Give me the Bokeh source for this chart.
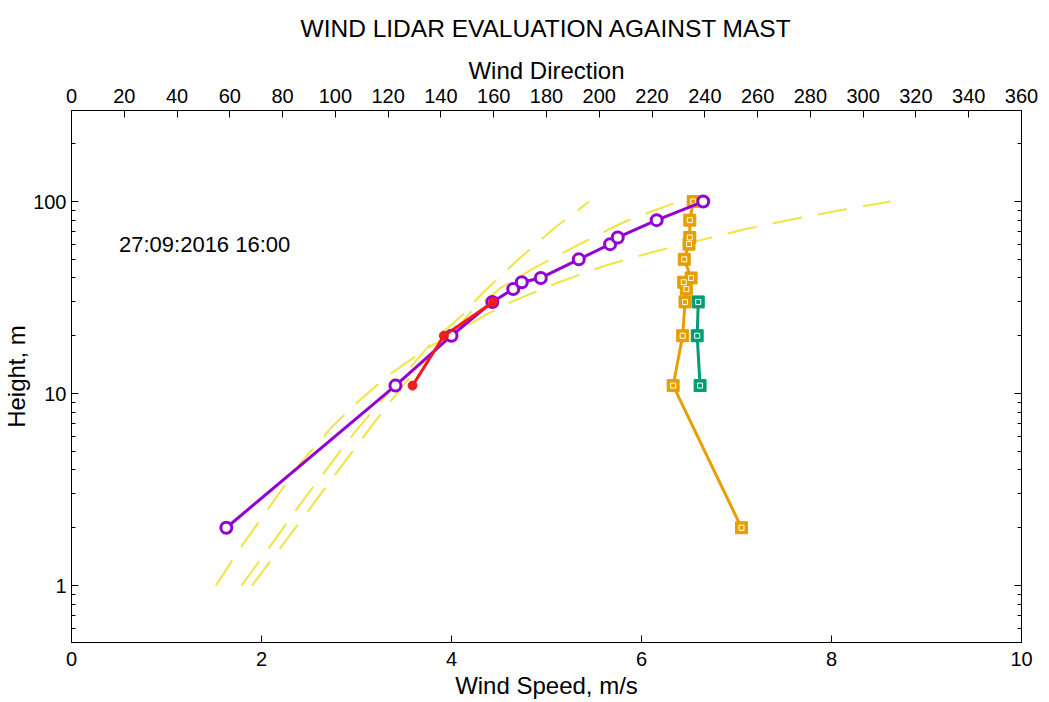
from bokeh.plotting import figure
from bokeh.models import Range1d, LinearAxis, LogAxis, FixedTicker, CustomJSTickFormatter, Label
from bokeh.embed import file_html
from bokeh.resources import INLINE

# ---------------- data ----------------
lidar_height = [2, 11, 20, 30, 35, 38, 40, 50, 60, 65, 80, 100]
lidar_speed = [1.63, 3.41, 4.00, 4.43, 4.65, 4.74, 4.94, 5.34, 5.67, 5.75, 6.16, 6.65]
lidar_dir = [253.9, 228.0, 231.6, 232.5, 233.0, 232.0, 234.8, 232.2, 234.0, 234.3, 234.3, 235.6]

mast_height = [11, 20, 30]
mast_speed = [3.59, 3.92, 4.44]
mast_dir = [238.2, 237.1, 237.5]

profile_a_speed = [1.52, 1.80, 2.10, 2.41, 2.73, 2.96, 3.34, 3.76, 4.38, 4.66, 5.13, 5.62, 6.11, 6.60, 7.11, 7.62, 8.11, 8.62]
profile_a_height = [1.0, 1.63, 2.63, 4.34, 6.6, 8.56, 12.5, 17.4, 26.0, 30.5, 38.0, 46.4, 54.4, 62.6, 72.1, 81.3, 90.5, 100]

profile_b_speed = [1.79, 2.09, 2.39, 2.70, 3.01, 3.22, 3.54, 3.81, 4.11, 4.32, 4.69, 5.08, 5.45]
profile_b_height = [1.0, 1.60, 2.58, 4.13, 6.55, 8.66, 13.2, 18.9, 25.5, 33.1, 49.3, 72.6, 100]

profile_c_speed = [1.90, 2.21, 2.52, 2.82, 3.13, 3.33, 3.62, 3.91, 4.20, 4.52, 4.90, 5.36, 5.81, 6.11, 6.39]
profile_c_height = [1.0, 1.60, 2.56, 4.05, 6.49, 8.74, 13.2, 18.4, 26.4, 35.6, 45.9, 60.4, 78.0, 89.0, 100]

speed_ticks = [0, 2, 4, 6, 8, 10]
dir_ticks = list(range(0, 361, 20))
height_ticks = [1, 10, 100]
height_minor = [0.6, 0.7, 0.8, 0.9, 2, 3, 4, 5, 6, 7, 8, 9, 20, 30, 40, 50, 60, 70, 80, 90, 200]

title_text = "WIND LIDAR EVALUATION AGAINST MAST"
note_text = "27:09:2016 16:00"

# ---------------- styling ----------------
FONT = "Liberation Sans"
PURPLE = "#9400D3"
RED = "#EE1C1C"
ORANGE = "#E69F00"
GREEN = "#009E73"
YELLOW = "#F0E442"

p = figure(width=1049, height=702, y_axis_type="log",
           x_range=Range1d(0, 10), y_range=Range1d(0.505, 298),
           output_backend="svg", toolbar_location=None,
           min_border_left=71, min_border_right=28,
           min_border_top=110, min_border_bottom=60,
           title=title_text)
p.title.align = "center"
p.title.text_font = FONT
p.title.text_font_size = "24.5px"
p.title.text_font_style = "normal"
p.title.text_color = "black"
p.title.standoff = 23

p.xgrid.visible = False
p.ygrid.visible = False
p.outline_line_color = "black"
p.outline_line_width = 1
p.background_fill_color = "white"
p.border_fill_color = "white"

p.extra_x_ranges = {"dir": Range1d(0, 360)}

def style_axis(ax, minor=True):
    ax.major_tick_in = 7
    ax.major_tick_out = 0
    ax.minor_tick_in = 4 if minor else 0
    ax.minor_tick_out = 0
    ax.axis_line_color = "black"
    ax.major_tick_line_color = "black"
    ax.minor_tick_line_color = "black"
    ax.major_label_text_font = FONT
    ax.major_label_text_font_size = "20px"
    ax.major_label_text_color = "black"
    ax.axis_label_text_font = FONT
    ax.axis_label_text_font_size = "24px"
    ax.axis_label_text_font_style = "normal"
    ax.axis_label_text_color = "black"

# bottom axis
xa = p.xaxis[0]
xa.ticker = FixedTicker(ticks=speed_ticks)
xa.axis_label = "Wind Speed, m/s"
style_axis(xa, minor=False)
xa.major_label_standoff = 9
xa.axis_label_standoff = 3

# left axis
ya = p.yaxis[0]
ya.ticker = FixedTicker(ticks=height_ticks, minor_ticks=height_minor)
ya.formatter = CustomJSTickFormatter(code="return String(Math.round(tick));")
ya.axis_label = "Height, m"
style_axis(ya)
ya.major_label_standoff = 5
ya.axis_label_standoff = 0

# top axis (direction)
top = LinearAxis(x_range_name="dir", axis_label="Wind Direction",
                 ticker=FixedTicker(ticks=dir_ticks))
style_axis(top, minor=False)
top.major_label_standoff = 8
top.axis_label_standoff = 2
p.add_layout(top, "above")

# right axis (ticks only, labels blanked)
right = LogAxis(ticker=FixedTicker(ticks=height_ticks, minor_ticks=height_minor),
                formatter=CustomJSTickFormatter(code="return ' ';"))
style_axis(right)
right.major_label_text_font_size = "2px"
right.major_label_standoff = 0
p.add_layout(right, "right")

# ---------------- glyphs ----------------
for sx, hy in [(profile_a_speed, profile_a_height),
               (profile_b_speed, profile_b_height),
               (profile_c_speed, profile_c_height)]:
    p.line(sx, hy, line_color=YELLOW, line_width=2, line_dash="30 16")

p.line(lidar_dir, lidar_height, x_range_name="dir", line_color=ORANGE, line_width=3)
p.scatter(lidar_dir, lidar_height, x_range_name="dir", marker="square", size=12,
          fill_color=ORANGE, line_color=ORANGE)
p.scatter(lidar_dir, lidar_height, x_range_name="dir", marker="square", size=5,
          fill_color=None, line_color="white", line_width=1)

p.line(mast_dir, mast_height, x_range_name="dir", line_color=GREEN, line_width=3)
p.scatter(mast_dir, mast_height, x_range_name="dir", marker="square", size=12,
          fill_color=GREEN, line_color=GREEN)
p.scatter(mast_dir, mast_height, x_range_name="dir", marker="square", size=5,
          fill_color=None, line_color="white", line_width=1)

p.line(lidar_speed, lidar_height, line_color=PURPLE, line_width=3)
p.scatter(lidar_speed, lidar_height, marker="circle", size=11,
          fill_color="white", line_color=PURPLE, line_width=3)

p.line(mast_speed, mast_height, line_color=RED, line_width=3)
p.scatter(mast_speed, mast_height, marker="circle", size=9,
          fill_color=RED, line_color=RED)

p.add_layout(Label(x=0.5, y=60, text=note_text, text_font=FONT,
                   text_font_size="22px", text_baseline="middle",
                   text_align="left", text_color="black"))

open("out.html", "w").write(file_html(p, INLINE))
